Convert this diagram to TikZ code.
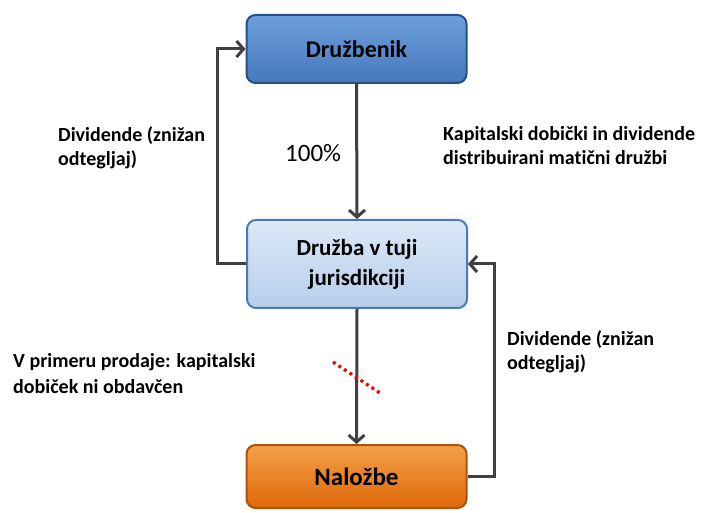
\documentclass[tikz,border=0pt]{standalone}
\usepackage{fontspec}
\setmainfont{Carlito}[Ligatures={NoCommon}]
\usetikzlibrary{arrows.meta}
\definecolor{arrgray}{HTML}{404040}
\definecolor{b1top}{HTML}{6E9FDC}
\definecolor{b1bot}{HTML}{4679BD}
\definecolor{b1edge}{HTML}{284F82}
\definecolor{b2top}{HTML}{DCE8F7}
\definecolor{b2bot}{HTML}{B6CEEC}
\definecolor{b2edge}{HTML}{4C79B3}
\definecolor{b3top}{HTML}{F4A048}
\definecolor{b3bot}{HTML}{DE680A}
\definecolor{b3edge}{HTML}{A9540C}
\tikzset{
  boxbase/.style={rounded corners=9pt, line width=2pt, minimum width=220pt, align=center, font=\bfseries},
  boxone/.style={boxbase, draw=b1edge, top color=b1top, bottom color=b1bot, minimum height=68pt, font=\fontsize{24}{29}\selectfont\bfseries},
  boxtwo/.style={boxbase, draw=b2edge, top color=b2top, bottom color=b2bot, minimum height=88pt, font=\fontsize{23}{30}\selectfont\bfseries},
  boxthree/.style={boxbase, draw=b3edge, top color=b3top, bottom color=b3bot, minimum height=63pt, font=\fontsize{25}{30}\selectfont\bfseries},
  arr/.style={draw=arrgray, line width=3pt, -{Straight Barb[length=7pt,width=16pt,line width=3pt]}},
  lbl/.style={anchor=base west, inner sep=0pt, font=\fontsize{20}{24}\selectfont\bfseries},
  pct/.style={anchor=base west, inner sep=0pt, font=\fontsize{25}{30}\selectfont},
  nocut/.style={draw=red, line width=3.2pt, dash pattern=on 3pt off 3.6pt}
}
\begin{document}
\begin{tikzpicture}[x=1pt,y=1pt]
\useasboundingbox (0,0) rectangle (702,-513);
\node[boxone] (b1) at (356.5,-49) {Družbenik};
\node[boxtwo] (b2) at (357,-264) {Družba v tuji\\jurisdikciji};
\node[boxthree] (b3) at (356.5,-476.5) {Naložbe};
\draw[arr] (b1.south) -- (b2.north);
\draw[arr] (b2.south) -- (b3.north);
\draw[arr] (b2.west) -- ++(-29,0) |- (b1.west);
\draw[arr] (b3.east) -- ++(27,0) |- (b2.east);
\coordinate (c1) at (333,-362);
\coordinate (c2) at (380,-393);
\draw[nocut] (c1) -- (c2);
\node[lbl] (l1a) at (58,-142) {Dividende (znižan};
\node[lbl] (l1b) at (58,-166) {odtegljaj)};
\node[pct] (p1) at (285,-162) {100\%};
\node[lbl] (r1a) at (443,-141) {Kapitalski dobički in dividende};
\node[lbl] (r1b) at (443,-165) {distribuirani matični družbi};
\node[lbl] (l2a) at (13,-367) {V primeru prodaje: kapitalski};
\node[lbl] (l2b) at (13,-393) {dobiček ni obdavčen};
\node[lbl] (r2a) at (507,-345) {Dividende (znižan};
\node[lbl] (r2b) at (507,-370) {odtegljaj)};
\end{tikzpicture}
\end{document}
